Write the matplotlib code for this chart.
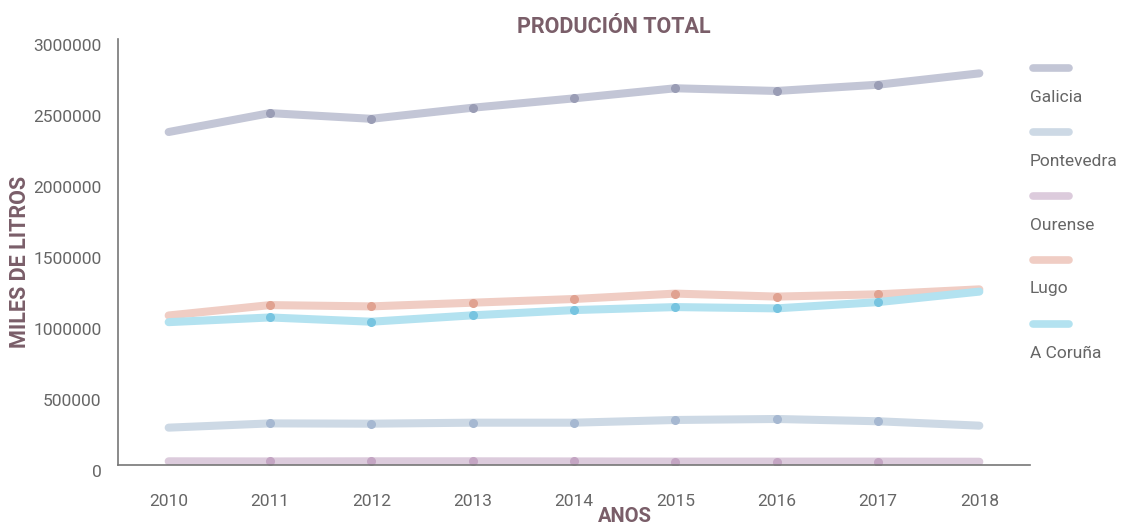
import matplotlib
matplotlib.use("Agg")
import matplotlib.pyplot as plt
import matplotlib.transforms as mtransforms
from matplotlib.lines import Line2D

plt.rcParams['font.family'] = ['Roboto', 'DejaVu Sans']

years = [2010, 2011, 2012, 2013, 2014, 2015, 2016, 2017, 2018]
galicia = [2345000, 2478000, 2438000, 2516000, 2582000, 2653000, 2634000, 2678000, 2758000]
pontevedra = [263000, 293000, 291000, 298000, 298000, 317000, 324000, 308000, 277000]
ourense = [26000, 25000, 26000, 26000, 25000, 24000, 24000, 24000, 23000]
lugo = [1053000, 1126000, 1117000, 1143000, 1169000, 1207000, 1186000, 1202000, 1237000]
coruna = [1006000, 1039000, 1009000, 1054000, 1091000, 1112000, 1103000, 1147000, 1221000]

names = ['Galicia', 'Pontevedra', 'Ourense', 'Lugo', 'A Coruña']
series = [galicia, pontevedra, ourense, lugo, coruna]
line_cols = ['#c3c6d6', '#cdd9e5', '#dccbdc', '#f0cdc4', '#b3e2f0']
dot_cols = ['#9a9db5', '#a6b8d1', '#c4a5c3', '#e0a291', '#77c4e0']

text_col = '#666666'
title_col = '#7a5e69'

fig = plt.figure(figsize=(11.25, 5.28), dpi=100)
ax = fig.add_axes([118/1125, 1 - 465/528, (1030 - 118)/1125, (465 - 39)/528])

for vals, lc, dc in zip(series, line_cols, dot_cols):
    ax.plot(years, vals, color=lc, lw=5.8, solid_capstyle='round',
            solid_joinstyle='round', marker='o', markersize=5.5,
            markerfacecolor=dc, markeredgecolor=dc, markevery=range(1, 8))

ax.set_xlim(2009.5, 2018.5)
ax.set_ylim(0, 3000000)
ax.set_xticks(years)
ax.set_yticks(range(0, 3000001, 500000))
ax.set_yticklabels([str(v) for v in range(0, 3000001, 500000)])
ax.tick_params(length=0, labelsize=12.5, labelcolor=text_col)
ax.tick_params(axis='x', pad=21)
ax.tick_params(axis='y', pad=12)
shift = mtransforms.ScaledTranslation(0, -6/100, fig.dpi_scale_trans)
for lab in ax.get_yticklabels():
    lab.set_transform(lab.get_transform() + shift)

for s in ['top', 'right']:
    ax.spines[s].set_visible(False)
for s in ['left', 'bottom']:
    ax.spines[s].set_color('#777777')
    ax.spines[s].set_linewidth(1.2)

fig.text(614/1125, 1 - 27/528, 'PRODUCIÓN TOTAL', ha='center', va='center',
         fontsize=15.5, fontweight='bold', color=title_col)
fig.text(625/1125, 1 - 517/528, 'ANOS', ha='center', va='center',
         fontsize=14.5, fontweight='bold', color=title_col)
fig.text(20/1125, 1 - 262/528, 'MILES DE LITROS', ha='center', va='center',
         rotation=90, fontsize=15.5, fontweight='bold', color=title_col)

# legend: swatch above each name
for i, (name, lc) in enumerate(zip(names, line_cols)):
    y_line = 68 + i * 64
    fig.add_artist(Line2D([1033/1125, 1069/1125], [1 - y_line/528] * 2,
                          color=lc, lw=5.5, solid_capstyle='round',
                          transform=fig.transFigure))
    fig.text(1030/1125, 1 - (y_line + 29)/528, name, ha='left', va='center',
             fontsize=12.5, color=text_col)

fig.savefig('out.png', dpi=100)
